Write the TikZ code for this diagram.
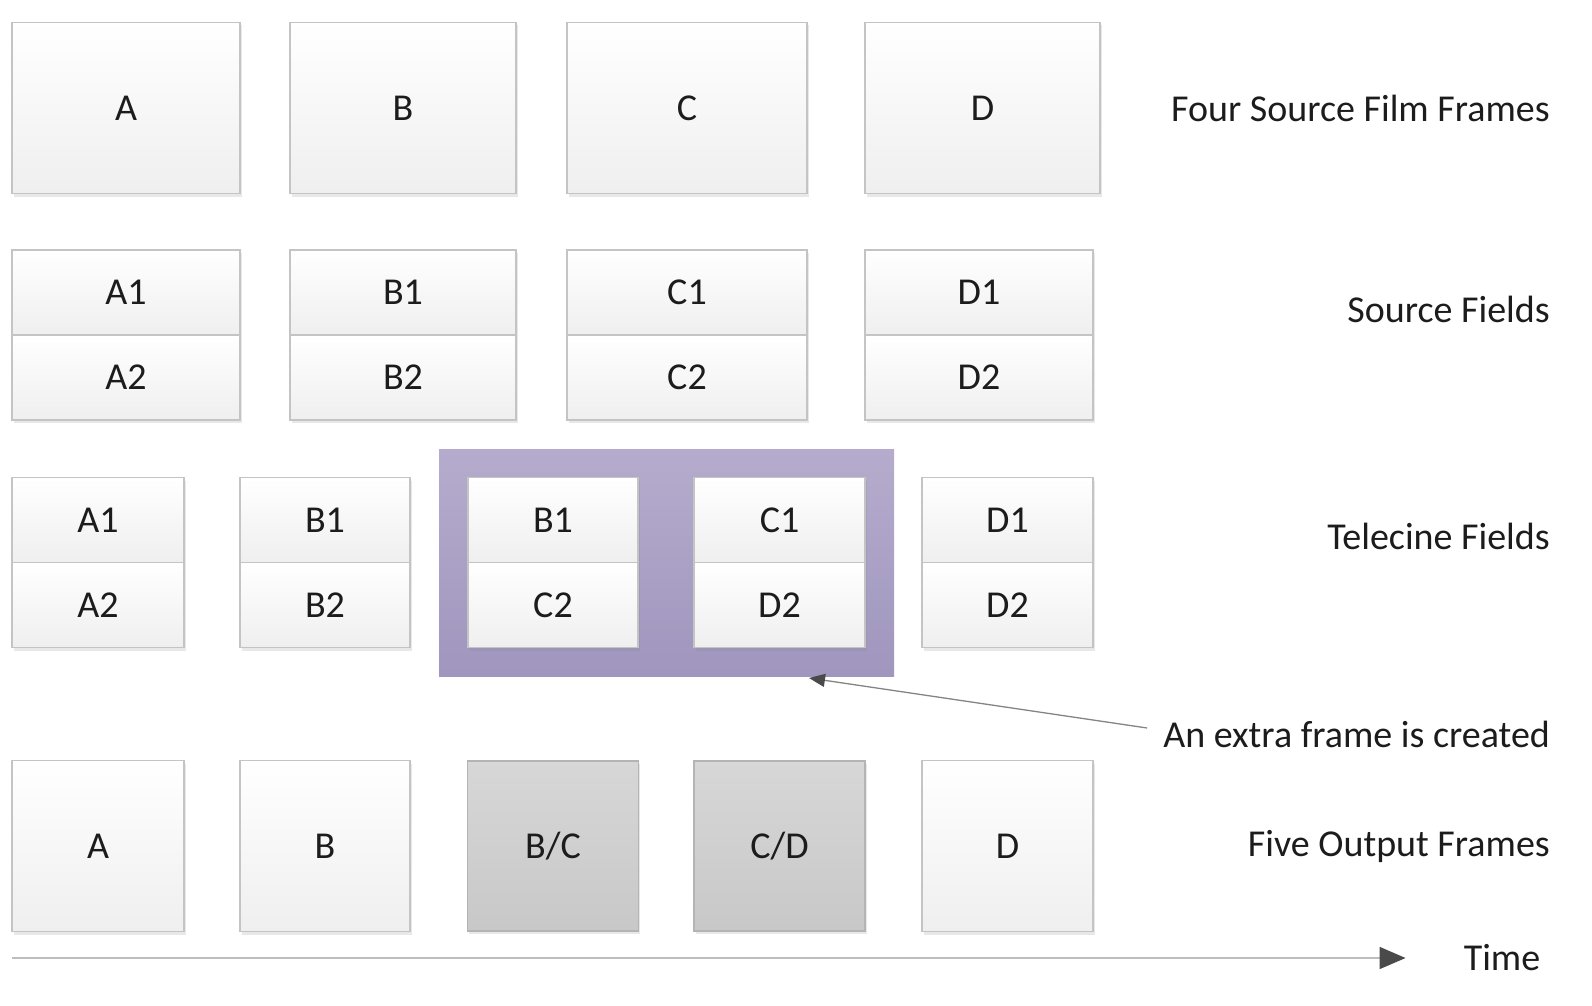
\documentclass[tikz,border=0pt]{standalone}
\usepackage{fontspec}
\setmainfont{Carlito}
\usetikzlibrary{positioning,shadows,arrows.meta}

\definecolor{boxline}{HTML}{C4C4C4}
\definecolor{boxlow}{HTML}{EFEFEF}
\definecolor{greytop}{HTML}{D7D7D7}
\definecolor{greylow}{HTML}{C8C8C8}
\definecolor{greyline}{HTML}{B4B4B4}
\definecolor{lilactop}{HTML}{B5ACCD}
\definecolor{lilaclow}{HTML}{A096BE}
\definecolor{ink}{HTML}{1C1C1C}
\definecolor{timeline}{HTML}{BDBDBD}
\definecolor{tipgrey}{HTML}{4A4A4A}

\begin{document}
\begin{tikzpicture}[x=1pt, y=-1pt,
    every node/.style={font=\fontsize{38}{40}\selectfont, text=ink},
    frame/.style={draw=boxline, line width=1.4pt, top color=white, bottom color=boxlow,
                  drop shadow={shadow xshift=1.5pt, shadow yshift=-3pt, opacity=0.18},
                  inner sep=0pt, minimum height=#1},
    frame/.default=171,
    field/.style={frame=85},
    merged/.style={draw=greyline, line width=1.4pt, top color=greytop, bottom color=greylow,
                   drop shadow={shadow xshift=1.5pt, shadow yshift=-3pt, opacity=0.18},
                   inner sep=0pt, minimum height=170, minimum width=171},
    caption/.style={anchor=east, inner sep=0pt}]
    \useasboundingbox (0,0) rectangle (1592,1006);

    % four source film frames
    \node[frame, minimum width=228] (filmA) at (126,108)   {A};
    \node[frame, minimum width=226] (filmB) at (403,108)   {B};
    \node[frame, minimum width=240] (filmC) at (687,108)   {C};
    \node[frame, minimum width=235] (filmD) at (982.5,108) {D};
    \node[caption] (capfilm) at (1550,108) {Four Source Film Frames};

    % source fields
    \node[field, minimum width=228] (srcA1) at (126,292.5) {A1};
    \node[field, minimum width=228] (srcA2) at (126,377.5) {A2};
    \node[field, minimum width=226] (srcB1) at (403,292.5) {B1};
    \node[field, minimum width=226] (srcB2) at (403,377.5) {B2};
    \node[field, minimum width=240] (srcC1) at (687,292.5) {C1};
    \node[field, minimum width=240] (srcC2) at (687,377.5) {C2};
    \node[field, minimum width=228] (srcD1) at (979,292.5) {D1};
    \node[field, minimum width=228] (srcD2) at (979,377.5) {D2};
    \node[caption] (capsrc) at (1550,309) {Source Fields};

    % telecine fields
    \node[fill=lilactop, top color=lilactop, bottom color=lilaclow,
          minimum width=455, minimum height=227, inner sep=0pt] (extra) at (666.5,562.5) {};
    \node[field, minimum width=172] (telA1) at (98,520)    {A1};
    \node[field, minimum width=172] (telA2) at (98,605)    {A2};
    \node[field, minimum width=170] (telB1) at (325,520)   {B1};
    \node[field, minimum width=170] (telB2) at (325,605)   {B2};
    \node[field, minimum width=170] (telBC1) at (553,520)  {B1};
    \node[field, minimum width=170] (telBC2) at (553,605)  {C2};
    \node[field, minimum width=171] (telCD1) at (779.5,520) {C1};
    \node[field, minimum width=171] (telCD2) at (779.5,605) {D2};
    \node[field, minimum width=171] (telD1) at (1007.5,520) {D1};
    \node[field, minimum width=171] (telD2) at (1007.5,605) {D2};
    \node[caption] (captel) at (1550,536) {Telecine Fields};

    % callout
    \node[caption] (capextra) at (1550,734) {An extra frame is created};
    \coordinate (extratip) at (809,678);
    \draw[timeline!70!black, line width=1.3pt, -{Triangle[length=16pt, width=13pt, color=tipgrey]}]
        (capextra.west) ++(-16,-6) -- (extratip);

    % five output frames
    \node[frame, minimum width=172] (outA) at (98,846)    {A};
    \node[frame, minimum width=170] (outB) at (325,846)   {B};
    \node[merged] (outBC) at (553,846)  {B/C};
    \node[merged] (outCD) at (779.5,846) {C/D};
    \node[frame, minimum width=171] (outD) at (1007.5,846) {D};
    \node[caption] (capout) at (1550,846) {Five Output Frames};

    % time axis
    \node[inner sep=0pt] (time) at (1502,958) {Time};
    \coordinate (t0) at (12,958);
    \draw[timeline, line width=1.6pt, -{Triangle[length=26pt, width=22pt, color=tipgrey]}, shorten >=58pt]
        (t0) -- (time.west);
\end{tikzpicture}
\end{document}
